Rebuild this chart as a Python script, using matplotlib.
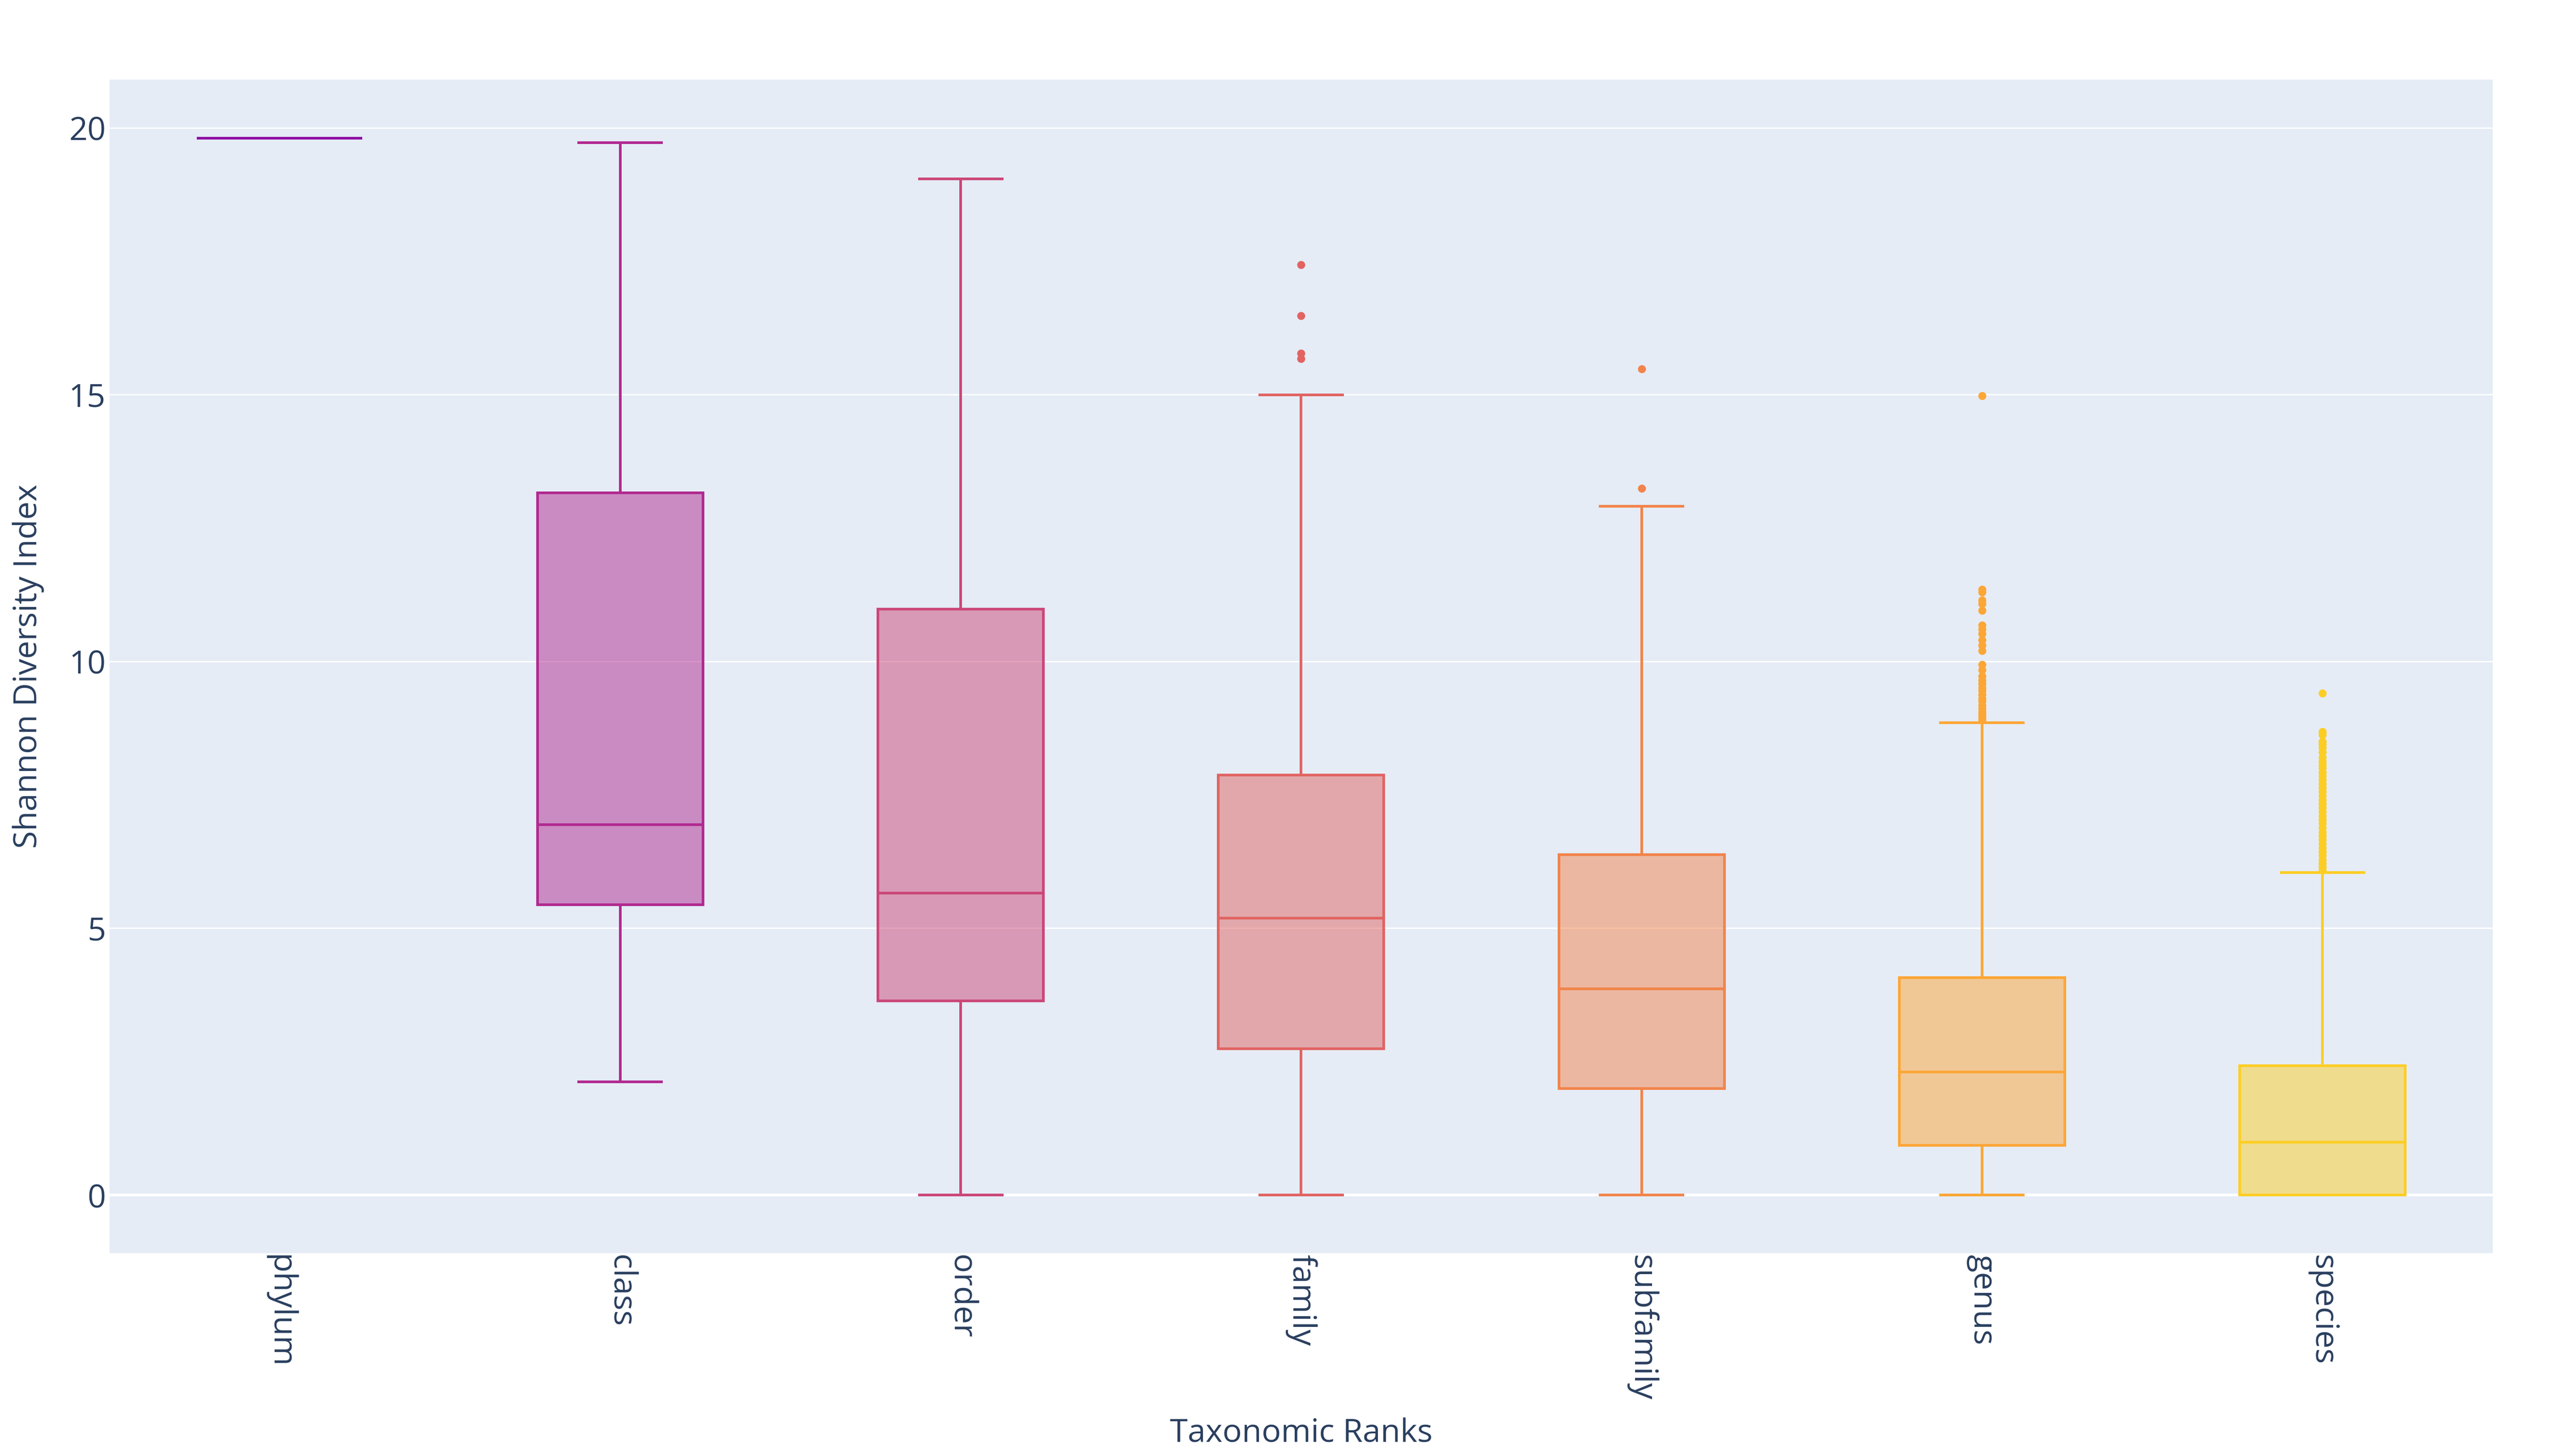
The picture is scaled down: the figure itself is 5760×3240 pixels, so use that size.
import matplotlib; matplotlib.use("Agg")
import matplotlib.pyplot as plt
from matplotlib.colors import to_rgba

plt.rcParams.update({"font.family": ["Open Sans", "DejaVu Sans"], "font.size": 17.3})

# ---------- data ----------
ranks = ["phylum", "class", "order", "family", "subfamily", "genus", "species"]
q1 = [19.80, 5.44, 3.64, 2.74, 1.99, 0.93, 0.00]
med = [19.80, 6.94, 5.66, 5.19, 3.86, 2.30, 0.99]
q3 = [19.80, 13.16, 10.98, 7.87, 6.38, 4.07, 2.42]
wlo = [19.80, 2.12, 0.00, 0.00, 0.00, 0.00, 0.00]
whi = [19.80, 19.72, 19.04, 14.99, 12.91, 8.85, 6.04]
out_family = [17.43, 16.48, 15.77, 15.67]
out_subfamily = [15.48, 13.24]
out_genus = [14.98, 11.35, 11.30, 11.15, 11.08, 10.95, 10.68, 10.60, 10.52, 10.40,
             10.30, 10.20, 9.94, 9.84, 9.72, 9.65, 9.58, 9.50, 9.45, 9.38, 9.30,
             9.25, 9.18, 9.12, 9.05, 9.00, 8.95, 8.90]
out_species = [9.40, 8.68, 8.62, 8.50, 8.45, 8.38, 8.30, 8.20, 8.12, 8.05, 8.00,
               7.92, 7.85, 7.78, 7.70, 7.63, 7.56, 7.48, 7.40, 7.33, 7.26, 7.18,
               7.10, 7.03, 6.96, 6.88, 6.80, 6.73, 6.66, 6.58, 6.50, 6.43, 6.36,
               6.28, 6.21, 6.14, 6.08]
outliers = [[], [], [], out_family, out_subfamily, out_genus, out_species]
colors = ["#8f0da4", "#b12a90", "#cc4778", "#e16462", "#f2844b", "#fca636", "#fcce25"]

BG = "#E5ECF6"; TXT = "#2a3f5f"
fig = plt.figure(figsize=(19.2, 10.8), dpi=300)
ax = fig.add_axes([0.0425, 0.1352, 0.9252, 0.8098])
ax.set_facecolor(BG)
for s in ax.spines.values(): s.set_visible(False)

for i, r in enumerate(ranks):
    st = dict(label=r, q1=q1[i], med=med[i], q3=q3[i], whislo=wlo[i], whishi=whi[i], fliers=outliers[i])
    c = colors[i]
    ax.bxp([st], positions=[i], widths=0.486, capwidths=0.243, patch_artist=True, showfliers=True,
           boxprops=dict(facecolor=to_rgba(c, 0.5), edgecolor=c, linewidth=1.44),
           medianprops=dict(color=c, linewidth=1.44),
           whiskerprops=dict(color=c, linewidth=1.44),
           capprops=dict(color=c, linewidth=1.44),
           flierprops=dict(marker="o", markerfacecolor=c, markeredgecolor="none", markersize=4.3),
           zorder=3)

ax.set_xlim(-0.5, 6.5)
ax.set_ylim(-1.09, 20.9)
ax.set_yticks([0, 5, 10, 15, 20])
ax.set_xticks(range(len(ranks)))
ax.set_xticklabels(ranks, rotation=-90, ha="center", va="top")
ax.grid(axis="y", color="white", lw=0.72, zorder=0)
ax.set_axisbelow(True)
ax.axhline(0, color="white", lw=1.44, zorder=1)
ax.tick_params(length=0, colors=TXT, labelsize=17.3)
ax.tick_params(axis="y", pad=2)
ax.tick_params(axis="x", pad=1)

ax.set_xlabel("Taxonomic Ranks", color=TXT, fontsize=17.3)
ax.xaxis.set_label_coords(0.5, -0.154)
ax.xaxis.label.set_va("center")
ax.set_ylabel("Shannon Diversity Index", color=TXT, fontsize=17.3)
ax.yaxis.set_label_coords(-0.034, 0.5)
ax.yaxis.label.set_va("center")

fig.savefig("out.png", dpi=300, facecolor="white")
